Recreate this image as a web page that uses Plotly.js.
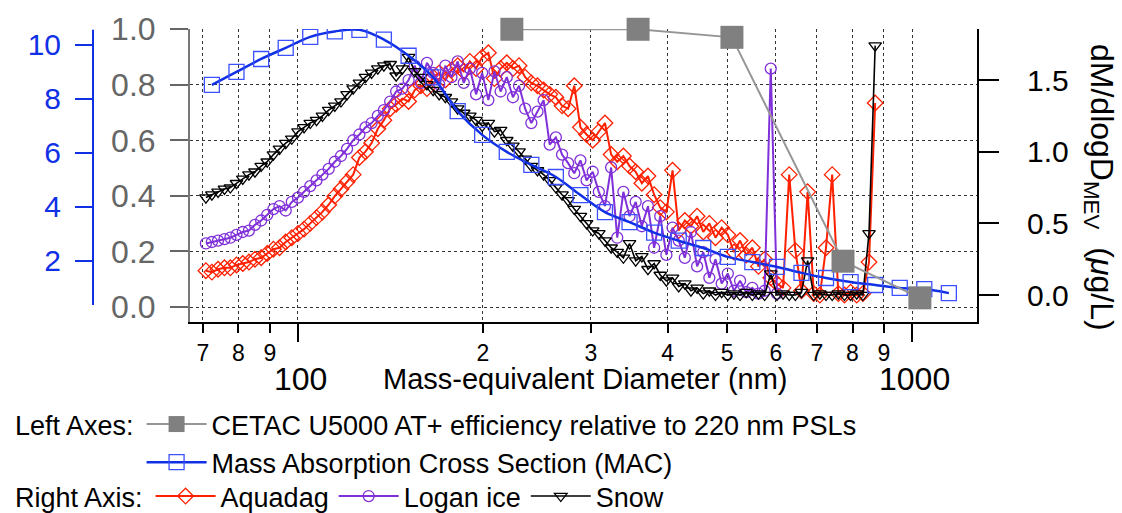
<!DOCTYPE html>
<html><head><meta charset="utf-8">
<script src="https://cdn.plot.ly/plotly-3.0.1.min.js"></script>
<style>html,body{margin:0;padding:0;background:#fff}#chart{width:1122px;height:513px}</style>
</head><body><div id="chart"></div>
<script>
const diameterNm = [70.8,72.4,74.1,75.9,77.6,79.4,81.3,83.2,85.1,87.1,
 89.1,91.2,93.3,95.5,97.7,100,102.3,104.7,107.2,109.6,
 112.2,114.8,117.5,120.2,123.0,125.9,128.8,131.8,134.9,138.0,
 141.3,144.5,147.9,151.4,154.9,158.5,162.2,166.0,169.8,173.8,
 177.8,182.0,186.2,190.5,195.0,199.5,204.2,208.9,213.8,218.8,
 223.9,229.1,234.4,239.9,245.5,251.2,257.0,263.0,269.2,275.4,
 281.8,288.4,295.1,302.0,309.0,316.2,323.6,331.1,338.8,346.7,
 354.8,363.1,371.5,380.2,389.0,398.1,407.4,416.9,426.6,436.5,
 446.7,457.1,467.7,478.6,489.8,501.2,512.9,524.8,537.0,549.5,
 562.3,575.4,588.8,602.6,616.6,631.0,645.7,660.7,676.1,691.8,
 707.9,724.4,741.3,758.6,776.2,794.3,812.8,831.8,851.1,871.0];

const aquadag = [0.17,0.16,0.18,0.19,0.19,0.21,0.22,0.23,0.25,0.26,
 0.29,0.32,0.33,0.37,0.40,0.43,0.46,0.50,0.54,0.58,
 0.63,0.69,0.74,0.79,0.84,0.96,1.00,1.06,1.16,1.22,
 1.30,1.33,1.37,1.35,1.43,1.46,1.44,1.52,1.55,1.50,
 1.57,1.60,1.56,1.63,1.58,1.66,1.69,1.51,1.58,1.62,
 1.58,1.60,1.52,1.48,1.46,1.43,1.40,1.38,1.32,1.30,
 1.46,1.17,1.12,1.08,1.14,1.20,0.98,0.93,0.97,0.90,
 0.86,0.78,0.83,0.70,0.61,0.58,0.87,0.45,0.52,0.48,
 0.55,0.44,0.50,0.40,0.47,0.42,0.30,0.38,0.28,0.33,
 0.20,0.25,0.12,0.08,0.05,0.84,0.31,0.03,0.72,0.01,
 0.00,0.33,0.84,0.01,0.00,0.02,0.00,0.01,0.23,1.34];

const loganIce = [0.36,0.37,0.38,0.39,0.40,0.42,0.44,0.45,0.49,0.52,
 0.56,0.60,0.62,0.59,0.65,0.68,0.72,0.76,0.80,0.84,
 0.88,0.93,0.97,1.02,1.08,1.12,1.17,1.20,1.25,1.29,
 1.35,1.42,1.44,1.50,1.60,1.48,1.62,1.55,1.47,1.60,
 1.52,1.63,1.48,1.58,1.40,1.55,1.36,1.56,1.42,1.52,
 1.38,1.46,1.30,1.20,1.28,1.36,1.05,1.10,0.98,0.92,
 0.85,0.94,0.80,0.86,0.72,0.62,0.89,0.40,0.72,0.55,
 0.65,0.48,0.62,0.33,0.55,0.28,0.47,0.38,0.26,0.44,
 0.20,0.30,0.12,0.25,0.08,0.15,0.03,0.10,0.02,0.05,
 0.01,0.03,1.58,0.01,null,null,null,null,null,null,
 null,null,null,null,null,null,null,null,null,null];

const snow = [0.68,0.70,0.72,0.74,0.75,0.78,0.81,0.84,0.86,0.90,
 0.93,0.98,1.02,1.06,1.09,1.14,1.17,1.20,1.22,1.25,
 1.29,1.32,1.35,1.40,1.44,1.48,1.52,1.55,1.58,1.60,
 1.61,1.53,1.58,1.66,1.56,1.52,1.47,1.43,1.40,1.38,
 1.35,1.30,1.27,1.25,1.22,1.18,1.20,1.14,1.15,1.08,
 1.04,1.00,0.95,0.90,0.87,0.84,0.80,0.75,0.70,0.66,
 0.60,0.55,0.50,0.45,0.43,0.38,0.33,0.30,0.26,0.36,
 0.24,0.27,0.18,0.22,0.14,0.10,0.12,0.06,0.08,0.03,
 0.05,0.01,0.03,0.00,0.02,0.00,0.01,0.00,0.02,0.00,
 0.01,0.00,0.15,0.00,0.01,0.00,0.00,0.02,0.24,0.00,
 0.01,0.00,0.00,0.01,0.00,0.00,0.01,0.00,0.43,1.74];

const macDiameterNm = [72.4,79.4,87.1,95.5,104.7,114.8,125.9,138.0,151.4,166.0,
 182.0,199.5,218.8,239.9,263.0,288.4,316.2,346.7,380.2,416.9,
 457.1,501.2,549.5,602.6,660.7,724.4,794.3,871.0,955.0,1047.1,1148.2];
const macValues = [8.52,9.0,9.48,9.89,10.3,10.5,10.56,10.2,9.6,8.8,
 7.55,6.67,6.04,5.56,5.11,4.44,3.81,3.44,3.05,2.75,
 2.48,2.15,1.96,1.78,1.56,1.37,1.22,1.11,1.0,0.96,0.81];

const cetacDiameterNm = [223, 358, 509, 772, 1030];
const cetacEfficiency = [1.0, 1.0, 0.971, 0.165, 0.033];

const xTickVals = [70,80,90,100,200,300,400,500,600,700,800,900,1000];
const xTickText = ['7','8','9','','2','3','4','5','6','7','8','9',''];
const leftTickVals = [0,0.2,0.4,0.6,0.8,1.0];
const macTickVals = [2,4,6,8,10];
const rightTickVals = [0,0.5,1.0,1.5];

const FONT = 'Liberation Sans, Arial, sans-serif';
const W = 1122, H = 513, L = 10, R = 145, T = 29, B = 191;
const paperW = W - L - R, plotH = H - T - B;
const px = v => (v - L) / paperW;
const py = v => (H - B - v) / plotH;
const cy = v => 1 - v / H;

const RED = 'rgb(255,32,0)', PURPLE = 'rgb(128,48,216)', BLUE = 'rgb(16,48,230)', MACMK = 'rgb(60,80,255)', GRAY = 'rgb(128,128,128)';

const traces = [
  {x: diameterNm, y: aquadag, name: 'Aquadag', yaxis: 'y', mode: 'lines+markers', legend: 'legend2',
   line: {color: RED, width: 2}, marker: {symbol: 'diamond-open', size: 12, color: RED, line: {width: 1.3}}},
  {x: diameterNm, y: loganIce, name: 'Logan ice', yaxis: 'y', mode: 'lines+markers', legend: 'legend2',
   line: {color: PURPLE, width: 2}, marker: {symbol: 'circle-open', size: 11, color: PURPLE, line: {width: 1.3}}},
  {x: diameterNm, y: snow, name: 'Snow', yaxis: 'y', mode: 'lines+markers', legend: 'legend2',
   line: {color: '#000', width: 1.6}, marker: {symbol: 'triangle-down-open', size: 11, color: '#000', line: {width: 1.3}}},
  {x: macDiameterNm, y: macValues, name: 'Mass Absorption Cross Section (MAC)', yaxis: 'y2', mode: 'lines+markers',
   legend: 'legend', legendrank: 2,
   line: {color: BLUE, width: 2.5, shape: 'spline', smoothing: 1}, marker: {symbol: 'square-open', size: 15, color: MACMK, line: {width: 1.3}}},
  {x: cetacDiameterNm, y: cetacEfficiency, name: 'CETAC U5000 AT+ efficiency relative to 220 nm PSLs', yaxis: 'y3',
   mode: 'lines+markers', legend: 'legend', legendrank: 1, cliponaxis: false,
   line: {color: 'rgb(150,150,150)', width: 2}, marker: {symbol: 'square', size: 23, color: GRAY}}
];

const gridStyle = {gridcolor: '#333', griddash: 'dot', gridwidth: 1};

const layout = {
  width: W, height: H,
  margin: {l: L, r: R, t: T, b: B, pad: 0},
  paper_bgcolor: '#fff', plot_bgcolor: '#fff',
  font: {family: FONT, color: '#000'},
  showlegend: true,
  xaxis: Object.assign({
    type: 'log', range: [Math.log10(66.7), Math.log10(1276)], domain: [px(190), 1],
    tickmode: 'array', tickvals: xTickVals, ticktext: xTickText,
    ticks: 'outside', ticklen: 9, tickwidth: 2, tickcolor: '#000',
    showline: true, linewidth: 2, linecolor: '#000', showgrid: true, zeroline: false,
    tickfont: {size: 23, family: FONT, color: '#000'}, anchor: 'y', automargin: false
  }, gridStyle),
  yaxis: {
    side: 'right', range: [-0.188, 1.856], anchor: 'x',
    tickmode: 'array', tickvals: rightTickVals, tickformat: '.1f',
    ticks: 'outside', ticklen: 20, tickwidth: 2, tickcolor: '#000',
    showline: true, linewidth: 2, linecolor: '#000', showgrid: false, zeroline: false,
    tickfont: {size: 30, family: FONT, color: '#000'}, ticklabelstandoff: 22, automargin: false
  },
  yaxis2: {
    overlaying: 'y', side: 'left', anchor: 'free', position: px(93),
    range: [-0.26, 10.59], tickmode: 'array', tickvals: macTickVals,
    ticks: 'outside', ticklen: 18, tickwidth: 2, tickcolor: BLUE,
    showline: false, showgrid: false, zeroline: false,
    tickfont: {size: 30, family: FONT, color: BLUE}, ticklabelstandoff: 8, automargin: false
  },
  yaxis3: Object.assign({
    overlaying: 'y', side: 'left', anchor: 'x',
    range: [-0.054, 1.001], tickmode: 'array', tickvals: leftTickVals, tickformat: '.1f',
    ticks: 'outside', ticklen: 18, tickwidth: 2, tickcolor: '#666',
    showline: true, linewidth: 2, linecolor: '#777', showgrid: true, zeroline: false,
    tickfont: {size: 32, family: FONT, color: '#666'}, ticklabelstandoff: 8, automargin: false
  }, gridStyle),
  legend: {
    xref: 'paper', yref: 'container',
    x: px(13), y: cy(400), xanchor: 'left', yanchor: 'top', orientation: 'v',
    bgcolor: 'rgba(0,0,0,0)', borderwidth: 0, itemwidth: 60, tracegroupgap: 0,
    font: {size: 27, family: FONT, color: '#000'},
    title: {text: 'Left Axes:', side: 'left', font: {size: 27, family: FONT, color: '#000'}}
  },
  legend2: {
    xref: 'paper', yref: 'container',
    x: px(13), y: cy(472), xanchor: 'left', yanchor: 'top', orientation: 'h',
    bgcolor: 'rgba(0,0,0,0)', borderwidth: 0, itemwidth: 60,
    font: {size: 27, family: FONT, color: '#000'},
    title: {text: 'Right Axis:', side: 'left', font: {size: 27, family: FONT, color: '#000'}}
  },
  shapes: [
    {type: 'line', xref: 'paper', x0: px(93), x1: px(93), yref: 'y2', y0: 0.37, y1: 10.56, line: {color: BLUE, width: 2}},
    {type: 'line', xref: 'x', x0: 100, x1: 100, yref: 'paper', y0: 0, y1: py(342), line: {color: '#000', width: 2}},
    {type: 'line', xref: 'x', x0: 1000, x1: 1000, yref: 'paper', y0: 0, y1: py(342), line: {color: '#000', width: 2}}
  ],
  annotations: [
    {text: '100', xref: 'x', x: 2, xshift: 3, yref: 'paper', y: py(379), xanchor: 'center', yanchor: 'middle', showarrow: false, font: {size: 32, family: FONT, color: '#000'}},
    {text: '1000', xref: 'x', x: 3, xshift: 2, yref: 'paper', y: py(379), xanchor: 'center', yanchor: 'middle', showarrow: false, font: {size: 32, family: FONT, color: '#000'}},
    {text: 'Mass-equivalent Diameter (nm)', xref: 'paper', x: px(585), yref: 'paper', y: py(379), xanchor: 'center', yanchor: 'middle', showarrow: false, font: {size: 29, family: FONT, color: '#000'}},
    {text: 'dM/dlogD<sub>MEV</sub>  (<i>μ</i>g/L)', xref: 'paper', x: px(1100), yref: 'paper', y: py(187), xanchor: 'center', yanchor: 'middle', textangle: 90, showarrow: false, font: {size: 32, family: FONT, color: '#000'}}
  ]
};

// Keep the plotting area where the reference has it: if the legends reserve extra
// margin, take that amount back from the requested margins and redraw.
Plotly.newPlot('chart', traces, layout, {displayModeBar: false, staticPlot: true}).then(gd => {
  const s = gd._fullLayout._size;
  const upd = {};
  if (Math.round(s.b) !== B) upd['margin.b'] = Math.max(0, B - (Math.round(s.b) - B));
  if (Math.round(s.t) !== T) upd['margin.t'] = Math.max(0, T - (Math.round(s.t) - T));
  if (Math.round(s.l) !== L) upd['margin.l'] = Math.max(0, L - (Math.round(s.l) - L));
  if (Math.round(s.r) !== R) upd['margin.r'] = Math.max(0, R - (Math.round(s.r) - R));
  if (Object.keys(upd).length) return Plotly.relayout(gd, upd);
});
</script>
</body></html>
